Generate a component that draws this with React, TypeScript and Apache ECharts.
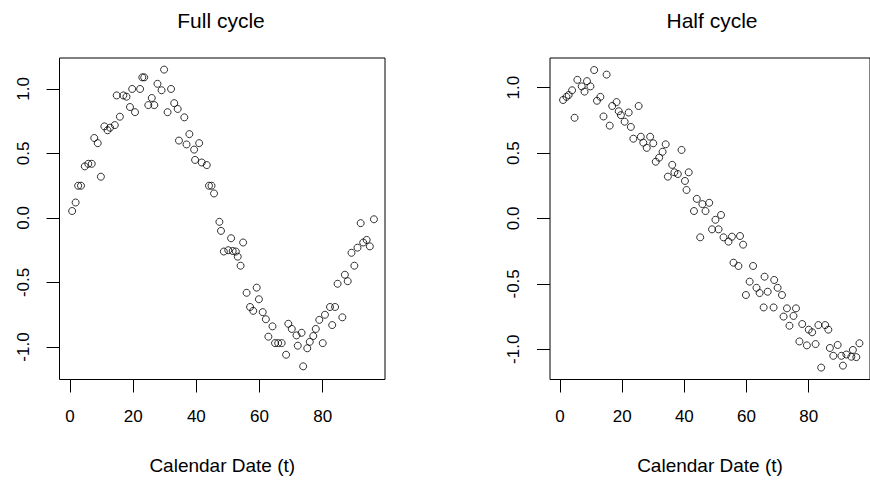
import React, { useEffect, useRef } from "react";
import * as echarts from "echarts";

// Left panel: "Full cycle"
const fullT = [0.7, 1.8, 2.6, 3.5, 4.7, 5.8, 6.9, 7.7, 8.8, 9.8, 10.9, 11.9, 12.7, 14.2, 14.8, 15.8, 16.9, 17.9, 19, 19.7, 20.6, 22.2, 22.9, 23.5, 24.8, 25.9, 26.7, 27.7, 29, 29.8, 30.9, 32, 33, 34.1, 34.5, 36.2, 36.9, 37.8, 39.3, 39.6, 40.9, 41.7, 43.3, 44, 44.8, 45.6, 47.3, 47.8, 48.7, 50.1, 51, 51.5, 52.5, 53.1, 54, 54.8, 55.9, 57, 58, 59.1, 59.8, 61, 62, 62.8, 64.1, 64.9, 65.9, 67, 68.4, 69.1, 70.2, 71.7, 72.1, 73.3, 73.8, 75.1, 75.9, 77, 77.8, 78.9, 80, 80.7, 82.3, 83, 83.9, 84.7, 86.2, 87, 87.9, 89.1, 90, 91, 92, 92.8, 93.9, 94.9, 96.2];
const fullV = [0.054, 0.12, 0.25, 0.25, 0.4, 0.42, 0.42, 0.62, 0.58, 0.32, 0.71, 0.68, 0.7, 0.72, 0.95, 0.785, 0.95, 0.94, 0.86, 1.0, 0.82, 1.0, 1.09, 1.09, 0.875, 0.93, 0.875, 1.04, 0.99, 1.15, 0.82, 1.0, 0.89, 0.845, 0.6, 0.78, 0.57, 0.65, 0.53, 0.45, 0.58, 0.43, 0.41, 0.25, 0.25, 0.19, -0.03, -0.1, -0.26, -0.25, -0.157, -0.256, -0.26, -0.3, -0.37, -0.19, -0.58, -0.69, -0.72, -0.54, -0.63, -0.73, -0.785, -0.92, -0.84, -0.97, -0.97, -0.97, -1.06, -0.82, -0.86, -0.91, -0.99, -0.89, -1.15, -1.01, -0.96, -0.915, -0.86, -0.79, -0.97, -0.75, -0.69, -0.83, -0.69, -0.51, -0.77, -0.44, -0.49, -0.27, -0.37, -0.23, -0.04, -0.19, -0.17, -0.22, -0.01];

// Right panel: "Half cycle"
const halfT = [1.0, 2.1, 2.8, 3.9, 4.7, 5.6, 7.0, 7.9, 8.7, 9.8, 11.0, 11.9, 13.0, 14.0, 15.0, 16.0, 16.8, 18.2, 18.9, 19.6, 20.8, 22.1, 22.8, 23.6, 25.3, 26.0, 26.8, 27.9, 29.0, 30.0, 30.8, 31.9, 33.0, 34.0, 34.7, 36.1, 36.8, 37.9, 39.1, 40.2, 40.7, 41.4, 43.1, 44.0, 45.1, 45.8, 46.8, 48.0, 48.9, 50.0, 51.0, 51.8, 52.6, 54.2, 55.3, 55.8, 57.4, 57.9, 58.9, 59.8, 61.0, 62.1, 63.2, 64.2, 65.5, 65.8, 66.8, 68.7, 68.9, 70.0, 71.4, 71.9, 73.0, 73.8, 75.1, 75.9, 77.0, 77.9, 79.4, 80.0, 81.1, 82.2, 83.1, 84.0, 85.3, 86.3, 86.8, 87.9, 89.3, 90.5, 91.0, 92.1, 93.7, 94.2, 95.3, 96.3];
const halfV = [0.906, 0.93, 0.944, 0.98, 0.77, 1.06, 1.01, 0.97, 1.05, 1.01, 1.135, 0.9, 0.93, 0.78, 1.1, 0.71, 0.86, 0.89, 0.82, 0.79, 0.74, 0.81, 0.7, 0.61, 0.86, 0.625, 0.58, 0.54, 0.625, 0.575, 0.434, 0.465, 0.51, 0.567, 0.32, 0.41, 0.353, 0.34, 0.524, 0.287, 0.218, 0.353, 0.057, 0.15, -0.144, 0.11, 0.057, 0.12, -0.083, -0.01, -0.083, 0.027, -0.144, -0.177, -0.139, -0.338, -0.363, -0.134, -0.2, -0.585, -0.483, -0.363, -0.53, -0.57, -0.68, -0.445, -0.56, -0.68, -0.47, -0.53, -0.585, -0.75, -0.687, -0.82, -0.745, -0.687, -0.94, -0.807, -0.97, -0.85, -0.87, -0.96, -0.815, -1.14, -0.815, -0.85, -0.99, -1.05, -0.967, -1.05, -1.125, -1.04, -1.057, -1.005, -1.06, -0.954];

const xTicks = [0, 20, 40, 60, 80];
const yTicks = [-1, -0.5, 0, 0.5, 1];
const titles = ["Full cycle", "Half cycle"];
const xName = "Calendar Date (t)";

const FONT = "Liberation Sans";

function makeX(gridIndex: number, min: number, max: number) {
  return {
    type: "value" as const,
    gridIndex,
    min,
    max,
    position: "bottom" as const,
    name: xName,
    nameLocation: "middle" as const,
    nameGap: 76,
    nameTextStyle: { fontFamily: FONT, fontSize: 19, color: "#000" },
    axisLine: { show: false, onZero: false },
    splitLine: { show: false },
    axisTick: { show: true, inside: false, length: 13, customValues: xTicks, lineStyle: { color: "#000", width: 1 } },
    axisLabel: { show: true, customValues: xTicks, margin: 28, fontFamily: FONT, fontSize: 17, color: "#000" },
  };
}

function makeY(gridIndex: number, min: number, max: number) {
  return {
    type: "value" as const,
    gridIndex,
    min,
    max,
    position: "left" as const,
    axisLine: { show: false, onZero: false },
    splitLine: { show: false },
    axisTick: { show: true, inside: false, length: 13, customValues: yTicks, lineStyle: { color: "#000", width: 1 } },
    axisLabel: {
      show: true,
      customValues: yTicks,
      rotate: 90,
      margin: 28,
      fontFamily: FONT,
      fontSize: 17,
      color: "#000",
      formatter: (v: number) => v.toFixed(1),
    },
  };
}

export default function App() {
  const ref = useRef<HTMLDivElement>(null);
  useEffect(() => {
    if (!ref.current) return;
    const chart = echarts.init(ref.current, undefined, { renderer: "svg" });
    const symbolStyle = { color: "transparent", borderColor: "#000", borderWidth: 1 };
    chart.setOption({
      animation: false,
      backgroundColor: "#fff",
      textStyle: { fontFamily: FONT },
      graphic: [
        { type: "text", x: 221, y: 20, style: { text: titles[0], fontFamily: FONT, fontSize: 21, fill: "#000", textAlign: "center", textVerticalAlign: "middle" } },
        { type: "text", x: 712, y: 20, style: { text: titles[1], fontFamily: FONT, fontSize: 21, fill: "#000", textAlign: "center", textVerticalAlign: "middle" } },
      ],
      grid: [
        { left: 59.5, top: 58, width: 325.5, height: 321.5, show: true, borderColor: "#000", borderWidth: 1, backgroundColor: "transparent", containLabel: false },
        { left: 550, top: 58, width: 326, height: 321.5, show: true, borderColor: "#000", borderWidth: 1, backgroundColor: "transparent", containLabel: false },
      ],
      xAxis: [makeX(0, -3.3, 99.7), makeX(1, -3.2, 99.7)],
      yAxis: [makeY(0, -1.252, 1.24), makeY(1, -1.231, 1.227)],
      series: [
        {
          type: "scatter",
          xAxisIndex: 0,
          yAxisIndex: 0,
          symbol: "circle",
          symbolSize: 7,
          itemStyle: symbolStyle,
          data: fullT.map((t, i) => [t, fullV[i]]),
        },
        {
          type: "scatter",
          xAxisIndex: 1,
          yAxisIndex: 1,
          symbol: "circle",
          symbolSize: 7,
          itemStyle: symbolStyle,
          data: halfT.map((t, i) => [t, halfV[i]]),
        },
      ],
    });
    return () => chart.dispose();
  }, []);
  return <div ref={ref} style={{ position: "fixed", left: 0, top: 0, width: 870, height: 487 }} />;
}
